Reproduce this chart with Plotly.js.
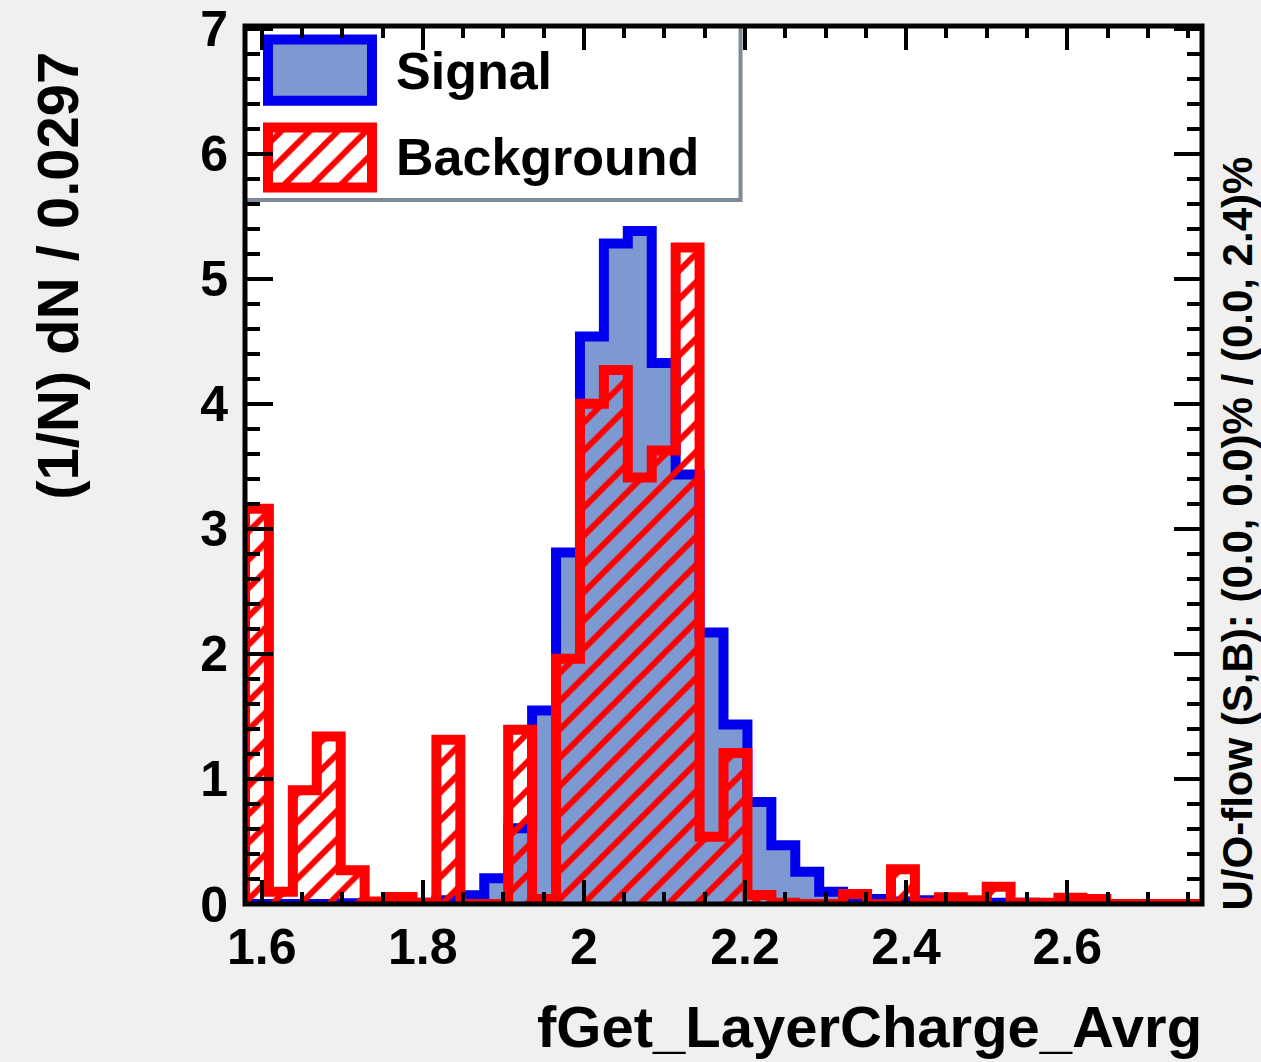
<!DOCTYPE html>
<html>
<head>
<meta charset="utf-8">
<script src="https://cdn.plot.ly/plotly-3.0.1.min.js"></script>
<style>
html,body{margin:0;padding:0;background:#f0f0f0;}
#chart{width:1261px;height:1062px;}
</style>
</head>
<body>
<div id="chart"></div>
<script>
// ---- histogram binning ----
const xMin = 1.5793;
const binWidth = 0.0297;
const nBins = 40;

// ---- series values: (1/N) dN / 0.0297, one per bin ----
const signal = [
  0.0, 0.0, 0.0, 0.0, 0.005, 0.005, 0.01, 0.01, 0.03, 0.07,
  0.205, 0.606, 1.547, 2.81, 4.537, 5.28, 5.38, 4.325, 3.435, 2.17,
  1.435, 0.816, 0.47, 0.257, 0.098, 0.05, 0.04, 0.02, 0.03, 0.01,
  0.02, 0.01, 0.01, 0.005, 0.005, 0.0, 0.0, 0.0, 0.0, 0.0
];
const background = [
  3.16, 0.098, 0.909, 1.34, 0.27, 0.02, 0.056, 0.01, 1.313, 0.0,
  0.0, 1.393, 0.04, 1.96, 4.0, 4.27, 3.41, 3.626, 5.25, 0.537,
  1.207, 0.072, 0.01, 0.0, 0.0, 0.08, 0.0, 0.277, 0.01, 0.053,
  0.03, 0.138, 0.01, 0.01, 0.05, 0.04, 0.0, 0.0, 0.0, 0.0
];

// ---- ticks / labels ----
const xTickVals = [1.6, 1.8, 2.0, 2.2, 2.4, 2.6];
const xTickText = ['1.6', '1.8', '2', '2.2', '2.4', '2.6'];
const yTickVals = [0, 1, 2, 3, 4, 5, 6, 7];
const yTickText = ['0', '1', '2', '3', '4', '5', '6', '7'];
const legendNames = ['Signal', 'Background'];
const xTitle = 'fGet_LayerCharge_Avrg';
const yTitle = '(1/N) dN / 0.0297';
const flowText = 'U/O-flow (S,B): (0.0, 0.0)% / (0.0, 2.4)%';

// ---- styles ----
const sigFill = '#7d99d1', sigLine = '#0000ee', bkgLine = '#ff0000';
const FONT = 'Liberation Sans, Arial, Helvetica, sans-serif';

function stepXY(vals) {
  const xs = [xMin], ys = [0];
  vals.forEach((v, i) => { xs.push(xMin + i * binWidth); ys.push(v); });
  xs.push(xMin + vals.length * binWidth); ys.push(0);
  return {xs, ys};
}

const s = stepXY(signal), b = stepXY(background);
const hatch = {shape: '/', fgcolor: bkgLine, bgcolor: 'rgba(0,0,0,0)', size: 20, solidity: 0.3};

const traces = [
  {type: 'scatter', mode: 'lines', x: s.xs, y: s.ys, fill: 'tozeroy', fillcolor: sigFill,
   line: {shape: 'hv', color: sigLine, width: 10}, hoverinfo: 'skip', showlegend: false, name: legendNames[0]},
  {type: 'scatter', mode: 'lines', x: b.xs, y: b.ys, fill: 'tozeroy', fillcolor: 'rgba(0,0,0,0)',
   fillpattern: hatch, line: {shape: 'hv', color: bkgLine, width: 10}, hoverinfo: 'skip', showlegend: false, name: legendNames[1]},
  // legend swatches on a helper [0,1] axis pair
  {type: 'scatter', mode: 'lines', xaxis: 'x2', yaxis: 'y2',
   x: [0.024, 0.1327, 0.1327, 0.024, 0.024, 0.1327], y: [0.915, 0.915, 0.9846, 0.9846, 0.915, 0.915],
   fill: 'toself', fillcolor: sigFill, line: {color: sigLine, width: 10}, hoverinfo: 'skip', showlegend: false},
  {type: 'scatter', mode: 'lines', xaxis: 'x2', yaxis: 'y2',
   x: [0.024, 0.1327, 0.1327, 0.024, 0.024, 0.1327], y: [0.816, 0.816, 0.8843, 0.8843, 0.816, 0.816],
   fill: 'toself', fillcolor: '#ffffff', fillpattern: hatch, line: {color: bkgLine, width: 10}, hoverinfo: 'skip', showlegend: false}
];

const tickFont = {family: FONT, size: 50, weight: 'bold', color: '#000'};

const layout = {
  width: 1261, height: 1062,
  paper_bgcolor: '#f0f0f0', plot_bgcolor: '#ffffff',
  margin: {l: 245, r: 59, t: 26, b: 158, pad: 0},
  showlegend: false,
  font: {family: FONT, color: '#000'},
  xaxis: {
    range: [xMin, xMin + nBins * binWidth],
    tickmode: 'array', tickvals: xTickVals, ticktext: xTickText,
    ticks: 'inside', ticklen: 24, tickwidth: 4, tickcolor: '#000',
    mirror: 'ticks', showline: false, showgrid: false, zeroline: false,
    tickfont: tickFont, ticklabelstandoff: 9,
    minor: {tickmode: 'linear', tick0: 1.6, dtick: 0.05, ticks: 'inside', ticklen: 12, tickwidth: 4, tickcolor: '#000', showgrid: false},
    fixedrange: true
  },
  yaxis: {
    range: [0, 7.02],
    tickmode: 'array', tickvals: yTickVals, ticktext: yTickText,
    ticks: 'inside', ticklen: 28, tickwidth: 4, tickcolor: '#000',
    mirror: 'ticks', showline: false, showgrid: false, zeroline: false,
    tickfont: tickFont, ticklabelstandoff: 16,
    minor: {tickmode: 'linear', tick0: 0, dtick: 0.2, ticks: 'inside', ticklen: 15, tickwidth: 4, tickcolor: '#000', showgrid: false},
    fixedrange: true
  },
  xaxis2: {overlaying: 'x', anchor: 'y2', range: [0, 1], visible: false, fixedrange: true},
  yaxis2: {overlaying: 'y', anchor: 'x2', range: [0, 1], visible: false, fixedrange: true},
  shapes: [
    {type: 'rect', xref: 'paper', yref: 'paper', x0: 0, x1: 0.5178, y0: 0.8017, y1: 1,
     fillcolor: '#ffffff', line: {color: '#7d8a99', width: 4}, layer: 'below'},
    {type: 'rect', xref: 'paper', yref: 'paper', x0: 0, x1: 1, y0: 0, y1: 1,
     fillcolor: 'rgba(0,0,0,0)', line: {color: '#000', width: 5}, layer: 'above'}
  ],
  annotations: [
    {text: xTitle, xref: 'paper', yref: 'paper', x: 1.002, y: -0.139, xanchor: 'right', yanchor: 'middle',
     showarrow: false, font: {family: FONT, size: 58, weight: 'bold', color: '#000'}},
    {text: yTitle, xref: 'paper', yref: 'paper', x: -0.196, y: 0.716, xanchor: 'center', yanchor: 'middle',
     textangle: -90, showarrow: false, font: {family: FONT, size: 58, weight: 'bold', color: '#000'}},
    {text: flowText, xref: 'paper', yref: 'paper', x: 1.0376, y: 0.422, xanchor: 'center', yanchor: 'middle',
     textangle: -90, showarrow: false, font: {family: FONT, size: 42, weight: 'bold', color: '#000'}},
    {text: legendNames[0], xref: 'paper', yref: 'paper', x: 0.1557, y: 0.949, xanchor: 'left', yanchor: 'middle',
     showarrow: false, font: {family: FONT, size: 52, weight: 'bold', color: '#000'}},
    {text: legendNames[1], xref: 'paper', yref: 'paper', x: 0.1557, y: 0.851, xanchor: 'left', yanchor: 'middle',
     showarrow: false, font: {family: FONT, size: 52, weight: 'bold', color: '#000'}}
  ]
};

Plotly.newPlot('chart', traces, layout, {displayModeBar: false, staticPlot: true});
</script>
</body>
</html>
